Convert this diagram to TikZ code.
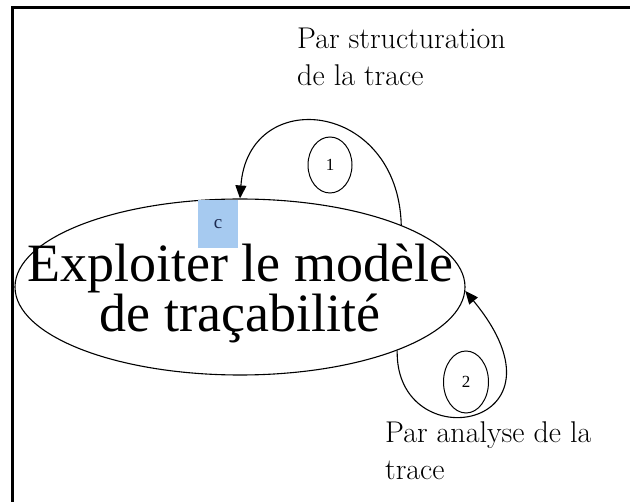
\documentclass[tikz,border=0pt]{standalone}
\usepackage{fontspec}
\newfontfamily\tnr{Liberation Serif}
\usetikzlibrary{shapes.geometric,arrows.meta}
\definecolor{boxblue}{HTML}{A6CAF0}
\definecolor{navy}{HTML}{1C2A50}
\tikzset{
  bigellipse/.style={draw, ellipse, line width=1.1pt, minimum width=450pt, minimum height=176pt, inner sep=0pt},
  smallellipse/.style={draw, ellipse, line width=1pt, inner sep=0pt, font=\tnr\fontsize{17}{17}\selectfont},
  loopline/.style={line width=1.1pt, -{Triangle[length=13pt,width=11pt]}},
  caption/.style={align=left, anchor=north west, inner sep=0pt, font=\fontsize{30}{37}\selectfont},
}
\begin{document}
\begin{tikzpicture}[x=1pt,y=-1pt]
\useasboundingbox (0,0) rectangle (630,502);
% frame
\draw[line width=3pt] (12,502) -- (12,8) -- (630,8);
% main ellipse and its text
\node[bigellipse] (main) at (240,287) {};
\node[align=center, inner sep=0pt, font=\tnr\fontsize{54}{47}\selectfont] (title) at (240,293) {Exploiter le modèle\\de traçabilité};
% blue box
\node[fill=boxblue, minimum width=40pt, minimum height=48pt, inner sep=0pt, text=navy, font=\tnr\fontsize{19}{19}\selectfont] (cbox) at (218,224) {c};
% loop 1
\draw[loopline] (main.21) .. controls (398,100) and (248,85) .. (main.90);
\node[smallellipse, minimum width=44pt, minimum height=56pt] (one) at (330,165) {1};
% loop 2
\draw[loopline] (main.-22) .. controls (395,460) and (580,430) .. (main.-1);
\node[smallellipse, minimum width=45pt, minimum height=62pt] (two) at (466,382) {2};
% captions
\node[caption] (cap1) at (297,28) {Par structuration\\de la trace};
\node[caption] (cap2) at (385,421) {Par analyse de la\\trace};
\end{tikzpicture}
\end{document}
